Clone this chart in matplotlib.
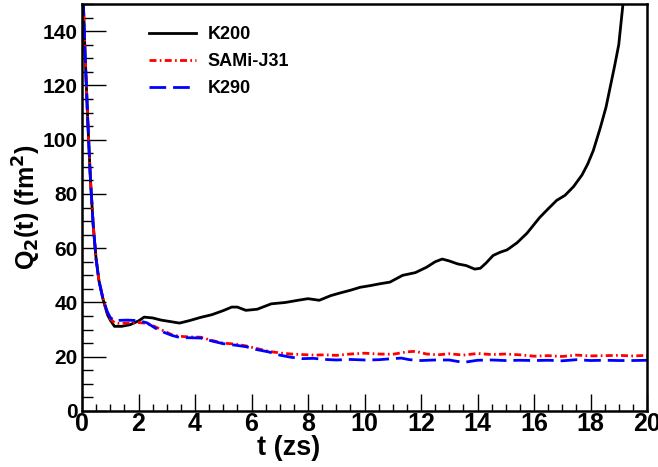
import matplotlib
matplotlib.use("Agg")
import matplotlib.pyplot as plt
from matplotlib.ticker import MultipleLocator

plt.rcParams['font.family'] = ['Liberation Sans', 'DejaVu Sans']
plt.rcParams['mathtext.fontset'] = 'custom'
plt.rcParams['mathtext.rm'] = 'Liberation Sans Narrow:bold'
plt.rcParams['mathtext.bf'] = 'Liberation Sans Narrow:bold'
plt.rcParams['mathtext.it'] = 'Liberation Sans Narrow:bold'

NARROW = ['Liberation Sans Narrow', 'DejaVu Sans Condensed', 'Liberation Sans']

t_k200 = [0, 0.05, 0.1, 0.2, 0.3, 0.4, 0.5, 0.6, 0.75, 0.9, 1.0, 1.15, 1.4, 1.7, 2.0, 2.2, 2.5, 2.8,
          3.1, 3.45, 3.8, 4.2, 4.6, 5.0, 5.3, 5.5, 5.8, 6.2, 6.7, 7.2, 7.7, 8.0, 8.4, 8.8, 9.1, 9.5,
          9.85, 10.2, 10.55, 10.9, 11.35, 11.8, 12.2, 12.5, 12.75, 13.0, 13.3, 13.6, 13.9, 14.1, 14.3,
          14.55, 14.8, 15.05, 15.4, 15.75, 16.2, 16.5, 16.8, 17.1, 17.4, 17.7, 17.9, 18.1, 18.35,
          18.55, 18.7, 18.85, 19.0, 19.15, 19.2]
q_k200 = [180, 150, 134, 108, 85, 68, 56, 48, 41, 35.5, 33.5, 31.2, 31.2, 31.8, 33.2, 34.6, 34.3, 33.5,
          33.0, 32.4, 33.3, 34.5, 35.5, 37.0, 38.3, 38.3, 37.1, 37.5, 39.5, 40.0, 40.9, 41.4, 40.8, 42.5,
          43.4, 44.5, 45.6, 46.2, 46.9, 47.5, 50.0, 51.0, 53.0, 55.0, 56.0, 55.3, 54.2, 53.6, 52.3, 52.6,
          54.5, 57.3, 58.5, 59.4, 62.0, 65.5, 71.3, 74.5, 77.6, 79.5, 82.7, 87.0, 91.0, 96.0, 104.5,
          112.0, 119.5, 127.0, 135.0, 150.0, 156.0]

t_sami = [0, 0.05, 0.1, 0.2, 0.3, 0.4, 0.5, 0.6, 0.75, 0.9, 1.0, 1.15, 1.3, 1.6, 2.0, 2.3, 2.6, 2.9,
          3.2, 3.5, 3.8, 4.2, 4.6, 5.0, 5.4, 5.8, 6.2, 6.6, 7.0, 7.4, 7.8, 8.2, 8.6, 9.0, 9.5, 10.0,
          10.5, 11.0, 11.5, 11.8, 12.2, 12.6, 13.0, 13.5, 14.0, 14.5, 15.0, 15.5, 16.0, 16.5, 17.0,
          17.5, 18.0, 18.5, 19.0, 19.5, 20.0]
q_sami = [180, 150, 134, 108, 85, 68, 56, 48, 41, 36, 34, 32.5, 32.3, 32.4, 32.6, 32.3, 31.0, 29.5,
          28.0, 27.5, 27.3, 27.2, 26.0, 25.0, 24.7, 24.0, 23.0, 22.0, 21.4, 21.0, 20.8, 20.6, 20.7,
          20.5, 21.0, 21.3, 21.0, 20.9, 21.8, 22.0, 21.0, 20.7, 21.1, 20.6, 21.2, 20.8, 21.0, 20.7,
          20.2, 20.4, 20.1, 20.6, 20.3, 20.4, 20.5, 20.3, 20.5]

t_k290 = [0, 0.05, 0.1, 0.2, 0.3, 0.4, 0.5, 0.6, 0.75, 0.9, 1.0, 1.15, 1.3, 1.6, 2.0, 2.3, 2.6, 2.9,
          3.2, 3.5, 3.8, 4.2, 4.6, 5.0, 5.4, 5.8, 6.2, 6.6, 7.0, 7.4, 7.8, 8.2, 8.6, 9.0, 9.5, 10.0,
          10.5, 11.0, 11.3, 11.6, 12.0, 12.5, 13.0, 13.5, 14.0, 14.5, 15.0, 15.5, 16.0, 16.5, 17.0,
          17.5, 18.0, 18.5, 19.0, 19.5, 20.0]
q_k290 = [180, 150, 134, 108, 85, 68, 56, 48, 41, 36.5, 34.5, 33.2, 33.4, 33.5, 33.3, 32.5, 30.5, 29.0,
          27.8, 27.0, 27.0, 26.9, 25.8, 24.8, 24.3, 23.7, 22.6, 21.8, 20.6, 19.8, 19.3, 19.4, 19.0,
          18.8, 19.0, 18.8, 18.9, 19.3, 19.5, 18.9, 18.6, 18.8, 18.8, 17.9, 18.7, 18.8, 18.6, 18.7,
          18.6, 18.7, 18.5, 18.9, 18.6, 18.7, 18.6, 18.6, 18.7]

labels = ["K200", "SAMi-J31", "K290"]

fig = plt.figure(figsize=(6.58, 4.67), dpi=100)
ax = fig.add_axes([82/658, 1-411/467, 565/658, 407/467])

ax.plot(t_k200, q_k200, color='black', lw=2.0, label=labels[0])
ax.plot(t_sami, q_sami, color='red', lw=2.0, dashes=(2.5, 1.2, 0.6, 1.2), label=labels[1])
ax.plot(t_k290, q_k290, color='blue', lw=2.0, dashes=(6, 2.5), label=labels[2])

ax.set_xlim(0, 20)
ax.set_ylim(0, 150)
ax.xaxis.set_major_locator(MultipleLocator(2))
ax.xaxis.set_minor_locator(MultipleLocator(0.5))
ax.yaxis.set_major_locator(MultipleLocator(20))
ax.yaxis.set_minor_locator(MultipleLocator(5))

for s in ax.spines.values():
    s.set_linewidth(1.8)

ax.tick_params(axis='both', which='both', direction='in', top=False, right=False, width=1.0)
ax.tick_params(axis='y', which='major', length=17, labelsize=15, pad=3)
ax.tick_params(axis='y', which='minor', length=8)
ax.tick_params(axis='x', which='major', length=12, labelsize=18, pad=1)
ax.tick_params(axis='x', which='minor', length=5)
for lab in ax.get_yticklabels():
    lab.set_fontweight('bold')
for lab in ax.get_xticklabels():
    lab.set_fontweight('bold')
    lab.set_family(NARROW)

ax.set_xlabel("t (zs)", fontsize=19.5, fontweight='bold', family=NARROW)
ax.xaxis.set_label_coords(0.366, -0.06)
ax.set_ylabel(r"Q$_{\mathbf{2}}$(t) (fm$^{\mathbf{2}}$)", fontsize=18, fontweight='bold', family=NARROW)
ax.yaxis.set_label_coords(-0.069, 0.5)

leg = ax.legend(loc='upper left', bbox_to_anchor=(0.09, 0.985), frameon=False,
                prop={'weight': 'bold', 'size': 13}, handlelength=2.6,
                labelspacing=0.55, handletextpad=0.63)

fig.savefig("out.png", dpi=100)
